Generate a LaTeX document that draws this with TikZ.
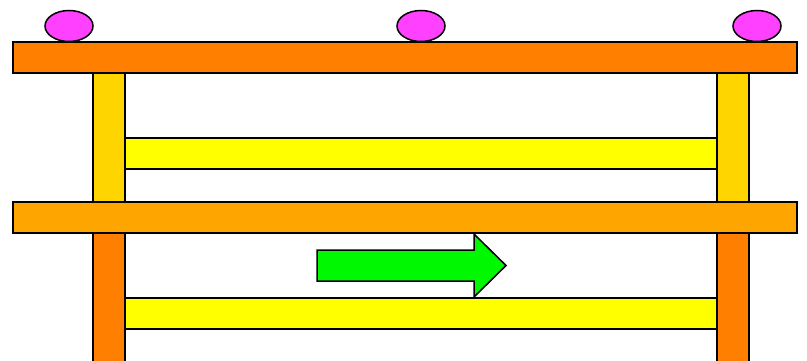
\documentclass[tikz,border=0pt]{standalone}
\definecolor{barorange}{HTML}{FF8000}
\definecolor{midorange}{HTML}{FFA500}
\definecolor{postgold}{HTML}{FFD500}
\definecolor{railyellow}{HTML}{FFFF00}
\definecolor{knobpink}{HTML}{FF40FF}
\definecolor{arrowgreen}{HTML}{00F800}
\begin{document}
\begin{tikzpicture}[x=1pt,y=-1pt,
  part/.style={draw=black,line width=1.5pt,line join=miter},
  knob/.style={part,fill=knobpink}]
\useasboundingbox (0,0) rectangle (807,361);
\clip (0,0) rectangle (807,361);
% lower posts
\draw[part,fill=barorange] (93,233) rectangle (125,370);
\draw[part,fill=barorange] (717,233) rectangle (749,370);
% upper posts
\draw[part,fill=postgold] (93,73) rectangle (125,202);
\draw[part,fill=postgold] (717,73) rectangle (749,202);
% rails between posts
\draw[part,fill=railyellow] (125,138) rectangle (717,169);
\draw[part,fill=railyellow] (125,298) rectangle (717,329);
% cross beams
\draw[part,fill=barorange] (13,42) rectangle (797,73);
\draw[part,fill=midorange] (13,202) rectangle (797,233);
% knobs on the top beam
\draw[knob] (69,26) ellipse [x radius=24, y radius=15.5];
\draw[knob] (421,26) ellipse [x radius=24, y radius=15.5];
\draw[knob] (757,26) ellipse [x radius=24, y radius=15.5];
% direction arrow
\draw[part,fill=arrowgreen] (317,250) -- (474,250) -- (474,234) -- (506,265.5)
  -- (474,297) -- (474,281) -- (317,281) -- cycle;
\end{tikzpicture}
\end{document}
